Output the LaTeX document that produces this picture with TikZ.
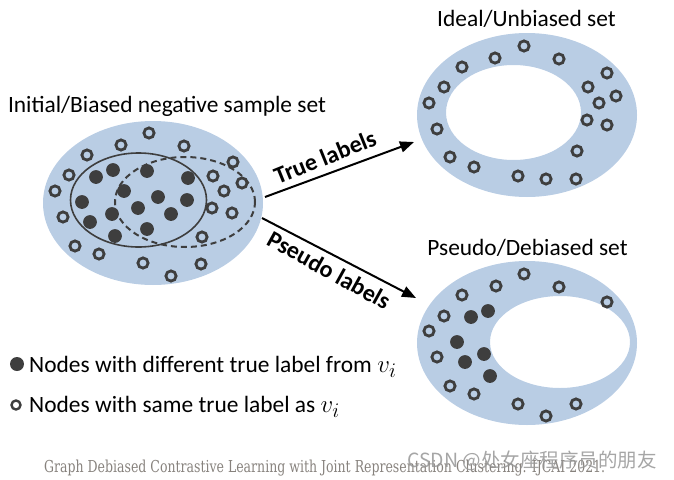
\documentclass[tikz,border=0pt]{standalone}
\usepackage{fontspec}
\setmainfont{Carlito}
\newfontfamily\capfont{DejaVu Serif}
\newfontfamily\cjkfont{Noto Sans CJK SC}
\usetikzlibrary{shapes.geometric,arrows.meta}
\definecolor{setblue}{RGB}{185,205,228}
\definecolor{dotgray}{RGB}{62,62,62}
\definecolor{capgray}{RGB}{135,130,125}
\definecolor{wmgray}{RGB}{150,150,150}
\begin{document}
\begin{tikzpicture}[x=1pt,y=-1pt,
  opendot/.style={circle,draw=dotgray,line width=2.8pt,minimum size=10.2pt,inner sep=0pt},
  filldot/.style={circle,fill=dotgray,minimum size=13.8pt,inner sep=0pt},
  title/.style={font=\fontsize{23.4}{28}\selectfont,anchor=base,inner sep=0pt},
  arrowlab/.style={font=\fontsize{24}{28}\selectfont\bfseries,inner sep=0pt},
  conn/.style={line width=2pt,-{Triangle[length=14pt,width=11pt]}},
  legend/.style={font=\fontsize{23.4}{28}\selectfont,anchor=base west,inner sep=0pt}]
\useasboundingbox (0,0) rectangle (674,479);

% ---- left set
\node[ellipse,fill=setblue,minimum width=220pt,minimum height=164pt,inner sep=0pt] (init) at (153,203) {};
\draw[dotgray,line width=1.6pt] (138.5,200) ellipse [x radius=68pt,y radius=47pt];
\draw[dotgray,line width=2pt,dash pattern=on 6pt off 4pt] (185,202) ellipse [x radius=70pt,y radius=45pt];
\foreach \p [count=\i] in {(96,177),(113,170),(147,171),(188,178),(124,191),(158,197),(187,200),(82,202),(112,214),(138,208),(171,214),(90,222),(115,236),(147,229)}
  \node[filldot] (lf\i) at \p {};
\foreach \p [count=\i] in {(149,133),(121,145),(184,146),(87,155),(233,162),(69,175),(213,176),(242,183),(55,191),(224,191),(212,208),(232,213),(63,217),(202,237),(75,246),(99,254),(143,263),(201,264),(171,276)}
  \node[opendot] (lo\i) at \p {};

% ---- ideal ring
\fill[setblue,even odd rule] (527,115) ellipse [x radius=110pt,y radius=82pt]
  (513.5,112.5) ellipse [x radius=67.5pt,y radius=47.5pt];
\foreach \p [count=\i] in {(524,46),(495,58),(559,59),(462,67),(607,73),(444,87),(588,87),(616,96),(429,103),(599,103),(437,129),(587,120),(607,125),(577,151),(450,157),(474,167),(518,176),(546,179),(576,179)}
  \node[opendot] (uo\i) at \p {};

% ---- pseudo ring
\fill[setblue,even odd rule] (527,343) ellipse [x radius=110pt,y radius=82pt]
  (560,342) ellipse [x radius=70pt,y radius=46pt];
\foreach \p [count=\i] in {(524,274),(496,286),(559,287),(462,295),(607,302),(444,316),(429,331),(437,357),(450,386),(474,394),(518,404),(546,416),(576,404)}
  \node[opendot] (po\i) at \p {};
\foreach \p [count=\i] in {(488,311),(471,317),(457,342),(484,354),(465,362),(490,376)}
  \node[filldot] (pf\i) at \p {};

% ---- titles
\node[title] (tinit) at (167,112) {Initial/Biased negative sample set};
\node[title] (tideal) at (526.5,26) {Ideal/Unbiased set};
\node[title] (tpseudo) at (527.5,255) {Pseudo/Debiased set};

% ---- arrows
\coordinate (ts) at (265,197);
\coordinate (te) at (414,142);
\coordinate (ps) at (262,218);
\coordinate (pe) at (416,298);
\draw[conn] (ts) -- (te);
\draw[conn] (ps) -- (pe);
\node[arrowlab,rotate=22] (ltrue) at (325,157) {True labels};
\node[arrowlab,rotate=-29] (lpseudo) at (329,270) {Pseudo labels};

% ---- legend
\node[circle,fill=dotgray,minimum size=14pt,inner sep=0pt] (legf) at (17,364) {};
\node[legend] (legft) at (29,372) {Nodes with different true label from \fontsize{30}{30}\selectfont$v_i$};
\node[circle,draw=dotgray,line width=2.4pt,minimum size=9pt,inner sep=0pt] (lego) at (16,405) {};
\node[legend] (legot) at (29,412) {Nodes with same true label as \fontsize{30}{30}\selectfont$v_i$};

% ---- caption and watermark
\node[anchor=base west,inner sep=0pt,text=capgray] (cap) at (44,472)
  {\resizebox{561pt}{12.5pt}{\capfont Graph Debiased Contrastive Learning with Joint Representation Clustering. IJCAI 2021.}};
\node[anchor=base west,inner sep=0pt,text=wmgray,opacity=0.85,font=\cjkfont\fontsize{19.5}{22}\selectfont] (wm) at (407,467) {CSDN @处女座程序员的朋友};
\end{tikzpicture}
\end{document}
